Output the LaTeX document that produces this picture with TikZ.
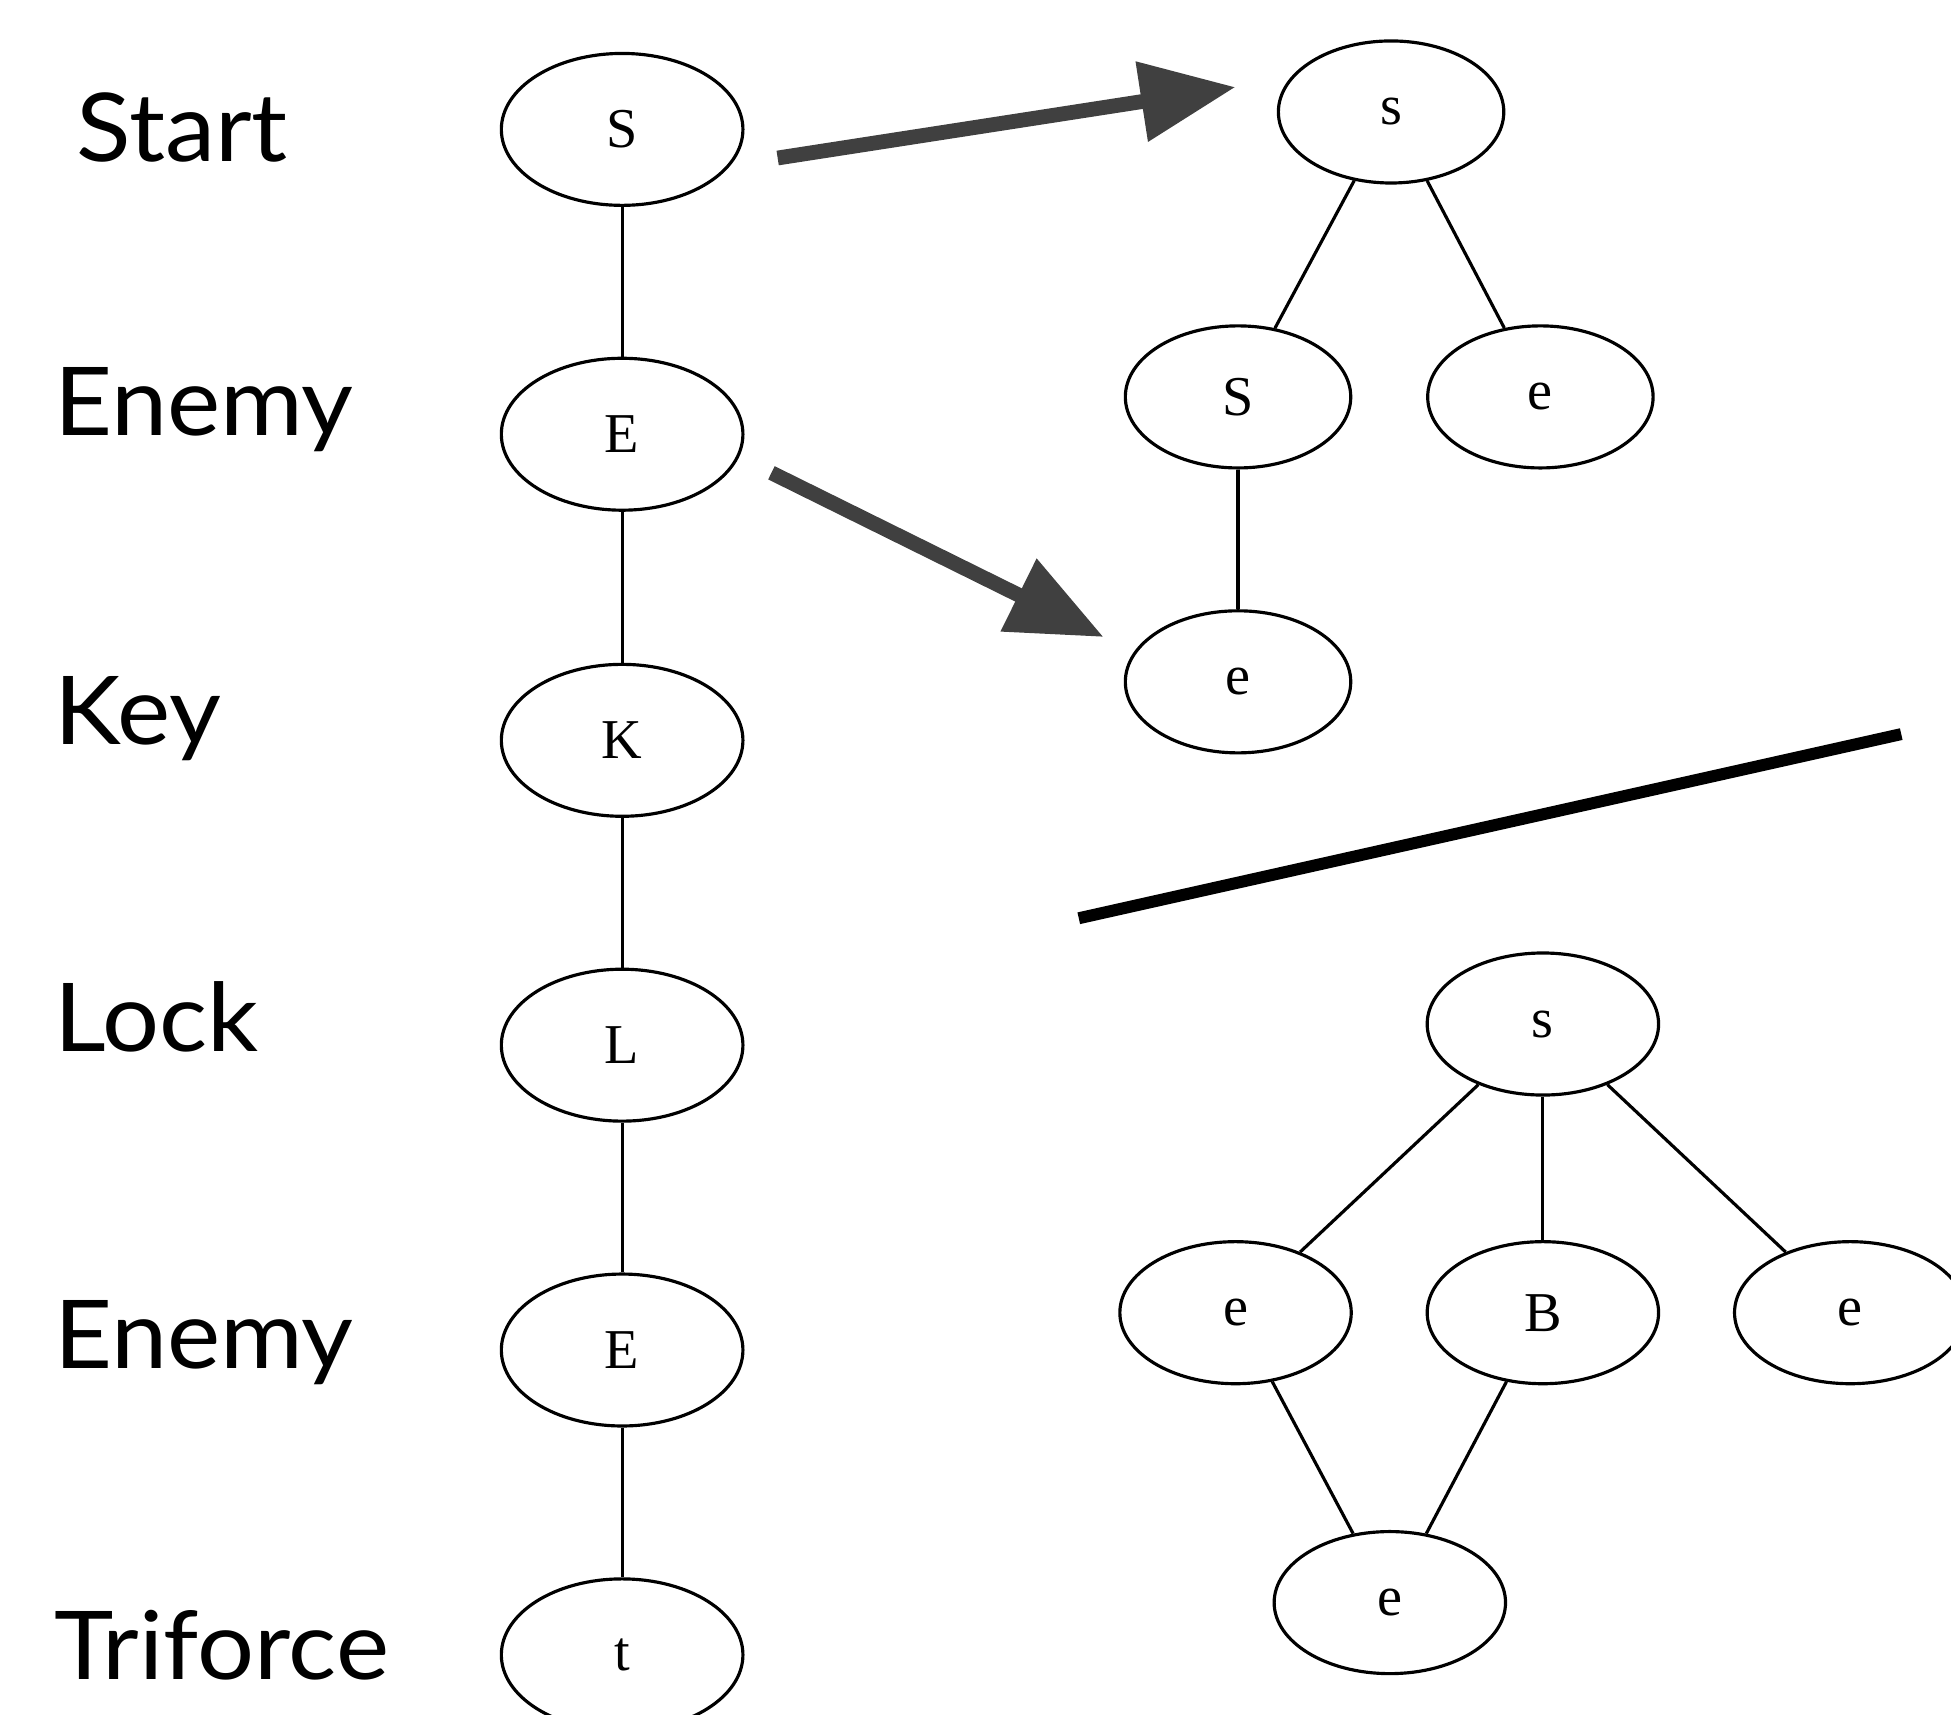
\documentclass[tikz,border=0pt]{standalone}
\usepackage{fontspec}
\setmainfont{Liberation Serif}
\newfontfamily\labelfont[FakeStretch=1.06]{Lato}
\usetikzlibrary{shapes.geometric,arrows.meta}
\definecolor{arrowgray}{HTML}{404040}

\begin{document}
\begin{tikzpicture}[x=0.012443cm,y=-0.012443cm,
  state/.style={ellipse,draw,line width=0.9pt,inner sep=0pt,
    minimum width=68.7pt,minimum height=43.2pt,
    font=\fontsize{16}{16}\selectfont},
  small/.style={state,minimum width=64.1pt,minimum height=40.4pt},
  mid/.style={state,minimum width=65.8pt,minimum height=40.4pt},
  edge/.style={line width=0.9pt},
  caption/.style={anchor=base west,inner sep=0pt,
    font=\labelfont\fontsize{27}{27}\selectfont},
  bigarrow/.style={draw=arrowgray,line width=4.2pt,
    -{Triangle[length=27pt,width=22pt]}},
  divider/.style={line width=3.4pt,black}]

\useasboundingbox (0,0) rectangle (1568,1378);
\clip (0,0) rectangle (1568,1378);

% captions of the chain
\node[caption] (capS)  at (61,130)   {Start};
\node[caption] (capE1) at (43,350)   {Enemy};
\node[caption] (capK)  at (43,598)   {Key};
\node[caption] (capL)  at (43,845)   {Lock};
\node[caption] (capE2) at (43,1100)  {Enemy};
\node[caption] (capT)  at (43,1350)  {Triforce};

% mission chain
\node[state] (cS)  at (500,104)  {S};
\node[state] (cE1) at (500,349)  {E};
\node[state] (cK)  at (500,595)  {K};
\node[state] (cL)  at (500,840)  {L};
\node[state] (cE2) at (500,1085) {E};
\node[state] (cT)  at (500,1330) {t};
\draw[edge] (cS) -- (cE1) -- (cK) -- (cL) -- (cE2) -- (cT);

% first rewrite result
\node[small] (rs)  at (1118,90)  {s};
\node[small] (rS)  at (995,319)  {S};
\node[small] (re1) at (1238,319) {e};
\node[small] (re2) at (995,548)  {e};
\draw[edge] (rs) -- (rS);
\draw[edge] (rs) -- (re1);
\draw[edge] (rS) -- (re2);

% rewrite arrows
\coordinate (a1from) at (625,127);
\coordinate (a1to)   at (993,70);
\coordinate (a2from) at (620,380);
\coordinate (a2to)   at (887,512);
\draw[bigarrow] (a1from) -- (a1to);
\draw[bigarrow] (a2from) -- (a2to);

% separator
\coordinate (d1) at (867,738);
\coordinate (d2) at (1528,590);
\draw[divider] (d1) -- (d2);

% second graph
\node[mid] (bs)  at (1240,823)  {s};
\node[mid] (be1) at (993,1055)  {e};
\node[mid] (bB)  at (1240,1055) {B};
\node[mid] (be2) at (1487,1055) {e};
\node[mid] (be3) at (1117,1288) {e};
\draw[edge] (bs) -- (be1);
\draw[edge] (bs) -- (bB);
\draw[edge] (bs) -- (be2);
\draw[edge] (be1) -- (be3);
\draw[edge] (bB) -- (be3);
\end{tikzpicture}
\end{document}
